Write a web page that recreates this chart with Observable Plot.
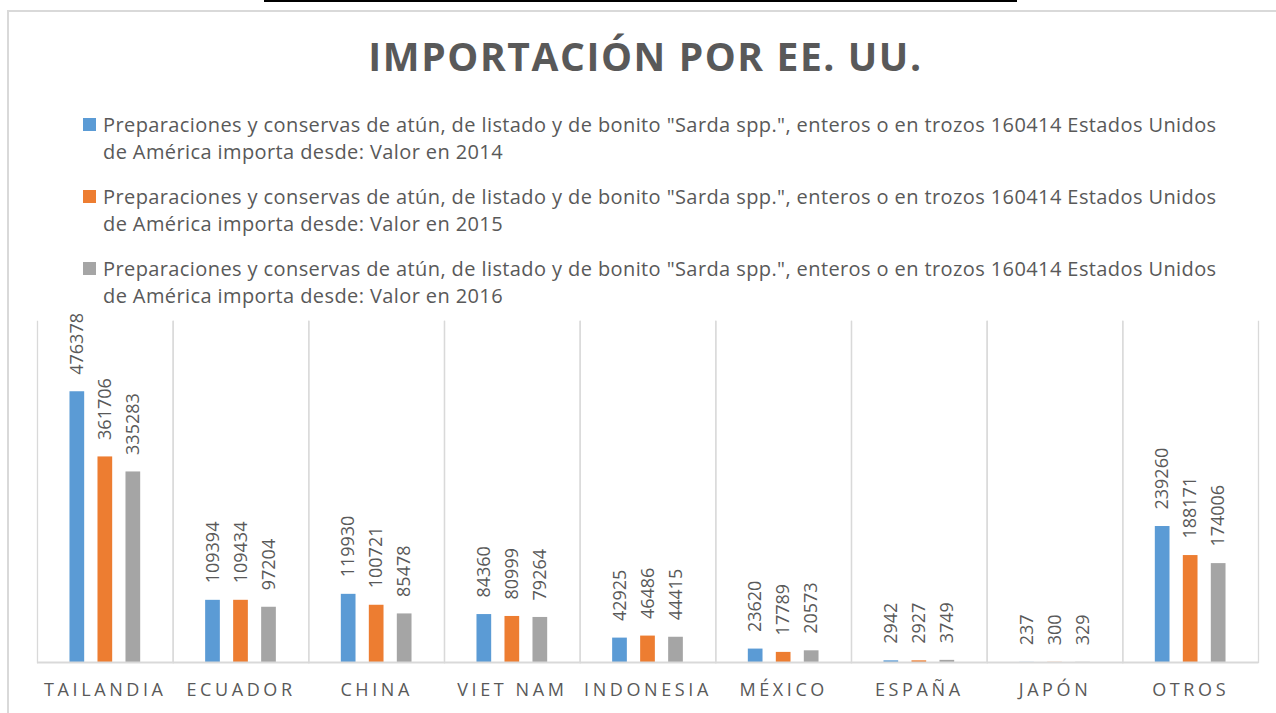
<!DOCTYPE html>
<html>
<head>
<meta charset="utf-8">
<script src="https://cdn.jsdelivr.net/npm/d3@7"></script>
<script src="https://cdn.jsdelivr.net/npm/@observablehq/plot@0.6"></script>
<style>
  html, body { margin: 0; padding: 0; background: #fff; }
  body { position: relative; width: 1276px; height: 713px; overflow: hidden; font-family: "Open Sans", sans-serif; color: #595959; }
  #topline { position: absolute; left: 264px; top: 0px; width: 753px; height: 2px; background: #000; }
  #frame { position: absolute; left: 7px; top: 10px; width: 1300px; height: 740px; border: 2px solid #d9d9d9; box-sizing: border-box; }
  #title { position: absolute; left: 7px; width: 1277px; top: 36px; text-align: center; font-size: 39px; line-height: 39px; font-weight: 700; letter-spacing: 1.6px; color: #595959; white-space: nowrap; }
  .item { position: absolute; left: 103px; font-size: 20px; letter-spacing: 0.4px; line-height: 27.3px; white-space: nowrap; color: #595959; }
  .sw { position: absolute; left: -20px; top: 7.5px; width: 13px; height: 13px; }
  #chart { position: absolute; left: 0; top: 310px; }
  #chart g[aria-label="fx-axis tick label"] { letter-spacing: 3.6px; }
</style>
</head>
<body>
<div id="topline"></div>
<div id="frame"></div>
<div id="title">IMPORTACIÓN POR EE. UU.</div>
<div id="legend"></div>
<div id="chart"></div>
<script>
// ---- data ----
const countries = ["TAILANDIA", "ECUADOR", "CHINA", "VIET NAM", "INDONESIA", "MÉXICO", "ESPAÑA", "JAPÓN", "OTROS"];
const v2014 = [476378, 109394, 119930, 84360, 42925, 23620, 2942, 237, 239260];
const v2015 = [361706, 109434, 100721, 80999, 46486, 17789, 2927, 300, 188171];
const v2016 = [335283, 97204, 85478, 79264, 44415, 20573, 3749, 329, 174006];
const years = ["2014", "2015", "2016"];
const seriesColors = ["#5b9bd5", "#ed7d31", "#a5a5a5"];
const legendLine1 = 'Preparaciones y conservas de atún, de listado y de bonito "Sarda spp.", enteros o en trozos 160414 Estados Unidos';
const legendLine2 = "de América importa desde: Valor en ";

// ---- legend ----
const legend = document.getElementById("legend");
years.forEach((y, i) => {
  const div = document.createElement("div");
  div.className = "item";
  div.style.top = (110.5 + i * 72) + "px";
  const sw = document.createElement("span");
  sw.className = "sw";
  sw.style.background = seriesColors[i];
  div.appendChild(sw);
  div.appendChild(document.createTextNode(legendLine1));
  div.appendChild(document.createElement("br"));
  div.appendChild(document.createTextNode(legendLine2 + y));
  legend.appendChild(div);
});

// ---- table ----
const valuesBySeries = [v2014, v2015, v2016];
const data = [];
countries.forEach((c, i) => {
  years.forEach((y, j) => {
    data.push({country: c, series: y, value: valuesBySeries[j][i]});
  });
});

const chart = Plot.plot({
  width: 1276,
  height: 403,
  marginLeft: 37,
  marginRight: 18,
  marginTop: 11,
  marginBottom: 51,
  style: {fontFamily: "Open Sans, sans-serif", color: "#595959", background: "transparent"},
  fx: {domain: countries, padding: 0, round: false},
  x: {domain: years, axis: null, paddingInner: 0.475, paddingOuter: 1.16, round: false},
  y: {domain: [0, 600000], axis: null},
  color: {domain: years, range: seriesColors},
  marks: [
    Plot.frame({anchor: "left", stroke: "#d9d9d9", strokeWidth: 1.3}),
    Plot.frame({anchor: "right", stroke: "#d9d9d9", strokeWidth: 1.3}),
    Plot.barY(data, {fx: "country", x: "series", y: "value", fill: "series"}),
    Plot.ruleY([0], {stroke: "#d9d9d9", strokeWidth: 2}),
    Plot.text(data, {fx: "country", x: "series", y: "value", text: d => String(d.value),
      rotate: -90, textAnchor: "start", dy: -17, fill: "#595959", fontSize: 18}),
    Plot.axisFx({anchor: "bottom", tickSize: 0, tickPadding: 21, fontSize: 18, fill: "#595959", label: null})
  ]
});
document.getElementById("chart").appendChild(chart);
</script>
</body>
</html>
